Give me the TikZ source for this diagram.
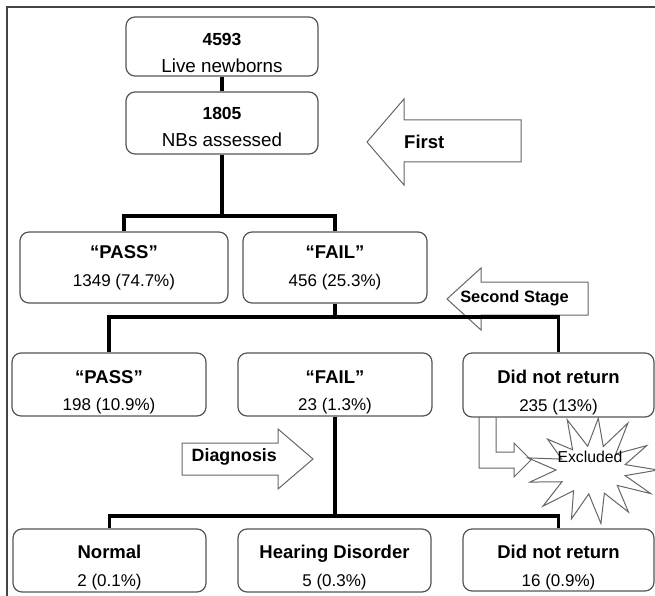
\documentclass[tikz,border=0pt]{standalone}
\usepackage{fontspec}
\setmainfont{Liberation Sans}
\usetikzlibrary{calc}
\definecolor{boxgray}{HTML}{555555}
\definecolor{arrgray}{HTML}{666666}
\definecolor{framegray}{HTML}{444444}
\begin{document}
\begin{tikzpicture}[x=1pt,y=-1pt,
  box/.style={draw=boxgray, line width=1.2pt, rounded corners=9pt, fill=white, inner sep=0pt},
  txt/.style={align=center, inner sep=0pt, font=\fontsize{17}{27.5}\selectfont},
  conn/.style={line width=3.6pt, black},
  blockarrow/.style={draw=arrgray, line width=1pt, fill=white, line join=miter},
  arrtxt/.style={inner sep=0pt, font=\fontsize{17.5}{20}\selectfont\bfseries}
]
\useasboundingbox (0,0) rectangle (655,596);
\draw[framegray, line width=1.2pt] (7,620) -- (7,7) -- (680,7);

% block arrows
\draw[blockarrow] (367,142) -- (404,99) -- (404,120) -- (521,120) -- (521,162) -- (404,162) -- (404,185) -- cycle;
\node[arrtxt, anchor=west, font=\fontsize{18.5}{20}\selectfont\bfseries] (first) at (404,142) {First};
\draw[blockarrow] (447,299) -- (481,268) -- (481,282) -- (588,282) -- (588,315) -- (481,315) -- (481,330) -- cycle;
\node[arrtxt, font=\fontsize{16.4}{20}\selectfont\bfseries] (second) at (514.5,298) {Second Stage};
\draw[blockarrow] (313,459) -- (278,429) -- (278,443) -- (182,443) -- (182,475) -- (278,475) -- (278,489) -- cycle;
\node[arrtxt, anchor=east, font=\fontsize{17.8}{20}\selectfont\bfseries] (diag) at (277,457) {Diagnosis};

% boxes
\node[box, minimum width=192pt, minimum height=59pt] (b1) at (222,46.5) {};
\node[box, minimum width=192pt, minimum height=62pt] (b2) at (222,123) {};
\node[box, minimum width=208pt, minimum height=71pt] (p1) at (124,267.5) {};
\node[box, minimum width=184pt, minimum height=71pt] (f1) at (335,267.5) {};
\node[box, minimum width=194pt, minimum height=63pt] (p2) at (109,384.5) {};
\node[box, minimum width=194pt, minimum height=63pt] (f2) at (335,384.5) {};
\node[box, minimum width=191pt, minimum height=64pt] (d2) at (558.5,385) {};
\node[box, minimum width=193pt, minimum height=63pt] (n3) at (109.5,560.5) {};
\node[box, minimum width=193pt, minimum height=63pt] (h3) at (334.5,560.5) {};
\node[box, minimum width=191pt, minimum height=62pt] (d3) at (558.5,560) {};

% connectors
\coordinate (j1) at (222,216);
\coordinate (j2) at (335,317);
\coordinate (j3) at (335,516);
\draw[conn] (b1.south) -- (b2.north);
\draw[conn] (b2.south) -- (j1);
\draw[conn] (p1.north) |- (j1) -| (f1.north);
\draw[conn] (f1.south) -- (j2);
\draw[conn] (p2.north) |- (j2) -| (d2.north);
\draw[conn] (f2.south) -- (j3);
\draw[conn] (n3.north) |- (j3) -| (d3.north);

% texts
\node[txt] (b1t) at (222,53) {{\fontsize{17.5}{27}\selectfont\bfseries 4593}\\{\fontsize{18.8}{27}\selectfont Live newborns}};
\node[txt] (b2t) at (222,127) {{\fontsize{17.5}{27}\selectfont\bfseries 1805}\\{\fontsize{18.8}{27}\selectfont NBs assessed}};
\node[txt] (p1t) at (124,268) {{\fontsize{18.5}{27}\selectfont\bfseries “PASS”}\\1349 (74.7\%)};
\node[txt] (f1t) at (335,268) {{\fontsize{18.5}{27}\selectfont\bfseries “FAIL”}\\456 (25.3\%)};
\node[txt] (p2t) at (109,392.5) {{\fontsize{18.5}{27}\selectfont\bfseries “PASS”}\\198 (10.9\%)};
\node[txt] (f2t) at (335,392.5) {{\fontsize{18.5}{27}\selectfont\bfseries “FAIL”}\\23 (1.3\%)};
\node[txt] (d2t) at (558.5,392.5) {{\fontsize{18.5}{27}\selectfont\bfseries Did not return}\\235 (13\%)};
\node[txt] (n3t) at (109.5,567.5) {{\fontsize{18.5}{27}\selectfont\bfseries Normal}\\2 (0.1\%)};
\node[txt] (h3t) at (334.5,567.5) {{\fontsize{18.5}{27}\selectfont\bfseries Hearing Disorder}\\5 (0.3\%)};
\node[txt] (d3t) at (558.5,567.5) {{\fontsize{18.5}{27}\selectfont\bfseries Did not return}\\16 (0.9\%)};

% bent arrow to Excluded
\draw[blockarrow, fill=none] (479,417) -- (479,468) -- (514,468) -- (514,477) -- (531,460) -- (514,443) -- (514,452) -- (496,452) -- (496,417);

% starburst
\begin{scope}[shift={(592,470)}]
\draw[blockarrow, line join=miter, miter limit=20] (0:66pt and 54pt) -- (13:34pt and 24pt) -- (28:62pt and 52pt) -- (42:32pt and 24pt) -- (57:66pt and 56pt) -- (70:33pt and 25pt) -- (84:60pt and 52pt) -- (98:31pt and 24pt) -- (112:66pt and 54pt) -- (126:33pt and 25pt) -- (140:58pt and 48pt) -- (153:34pt and 24pt) -- (166:66pt and 50pt) -- (180:36pt and 26pt) -- (194:64pt and 50pt) -- (208:34pt and 25pt) -- (222:66pt and 54pt) -- (236:33pt and 25pt) -- (250:60pt and 52pt) -- (264:31pt and 24pt) -- (278:64pt and 54pt) -- (292:33pt and 25pt) -- (306:62pt and 52pt) -- (320:33pt and 24pt) -- (333:66pt and 52pt) -- (347:34pt and 25pt) -- cycle;
\end{scope}
\node[inner sep=0pt, font=\fontsize{15.8}{18}\selectfont] (excl) at (590,457) {Excluded};
\end{tikzpicture}
\end{document}
